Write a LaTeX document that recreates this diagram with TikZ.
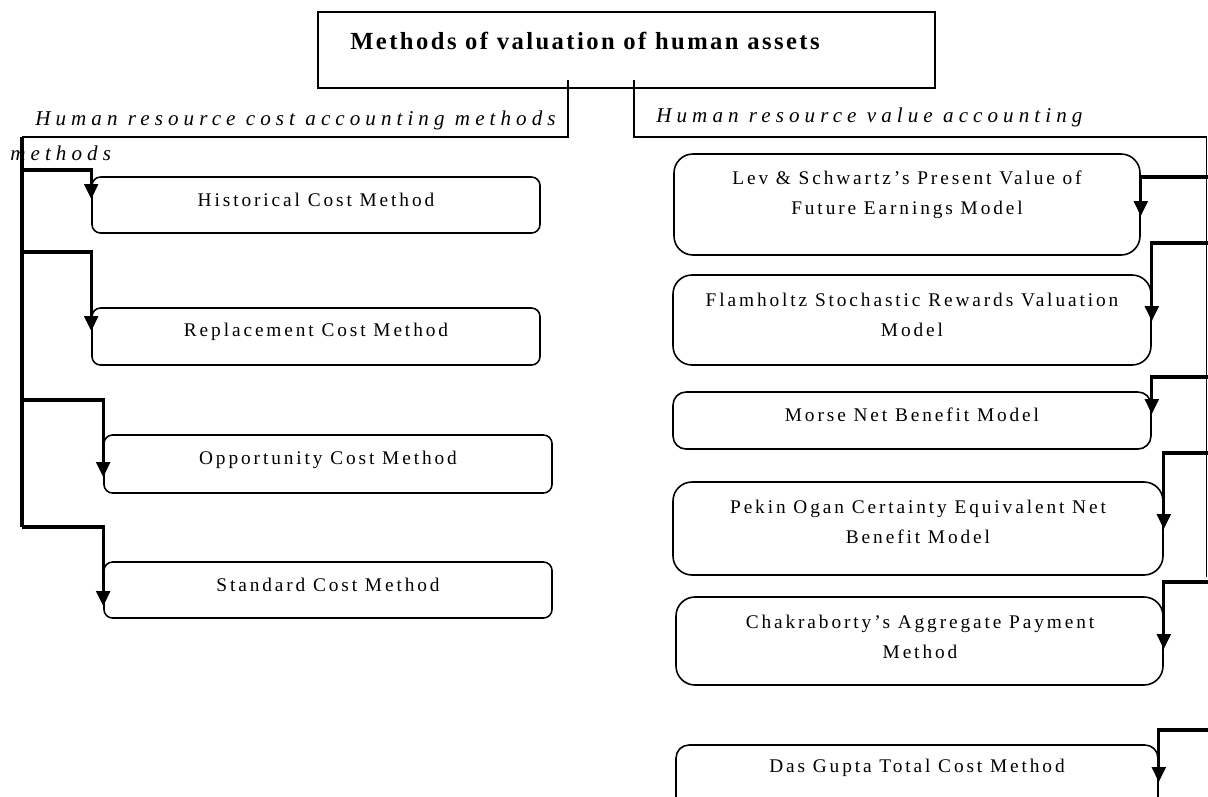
\documentclass[tikz,border=0pt]{standalone}
\usepackage{fontspec}
\setmainfont{Liberation Serif}
\newfontfamily\boxfont[LetterSpace=15]{Liberation Serif}
\newfontfamily\headfont[LetterSpace=10]{Liberation Serif}
\newfontfamily\branchfont[LetterSpace=24]{Liberation Serif}
\usetikzlibrary{arrows.meta,fit}

\begin{document}
\begin{tikzpicture}[
    x=0.02cm, y=-0.02cm,
    box/.style={draw, line width=0.9pt, rounded corners=0.17cm, inner sep=0pt},
    midbox/.style={box, rounded corners=0.26cm},
    tallbox/.style={box, rounded corners=0.38cm},
    txt/.style={font=\fontsize{11}{17}\selectfont\boxfont, align=center, inner sep=0pt},
    head/.style={font=\fontsize{14}{16}\selectfont\headfont\bfseries, inner sep=0pt},
    branch/.style={font=\fontsize{12}{14}\selectfont\branchfont\itshape, inner sep=0pt, anchor=west},
    link/.style={line width=0.7pt},
    trunk/.style={line width=1.9pt},
    feed/.style={line width=1.9pt, -{Triangle[length=0.3cm, width=0.27cm]}}
]
\clip (0,0) rectangle (1208,796);

% Top
\node[draw, line width=0.9pt, inner sep=0pt, fit={(318,12) (935,88)}] (top) {};
\node[head] (topT) at (585,41) {Methods of valuation of human assets};

% Branch labels
\node[branch] (hrc) at (35,120) {Human resource cost accounting methods};
\node[branch] (hrcb) at (10,153) {methods};
\node[branch] (hrv) at (656,117) {Human resource value accounting};

% Cost methods
\node[box, fit={(92,177) (540,233)}] (hcm) {};
\node[box, fit={(92,308) (540,365)}] (rcm) {};
\node[box, fit={(104,435) (552,493)}] (ocm) {};
\node[box, fit={(104,562) (552,618)}] (scm) {};
\node[txt] (hcmT) at (316,200) {Historical Cost Method};
\node[txt] (rcmT) at (316,332) {Replacement Cost Method};
\node[txt] (ocmT) at (328,460) {Opportunity Cost Method};
\node[txt] (scmT) at (328,585) {Standard Cost Method};

% Value models
\node[tallbox, fit={(674,154) (1140,255)}] (lev) {};
\node[tallbox, fit={(673,275) (1151,365)}] (flam) {};
\node[midbox, fit={(673,392) (1151,449)}] (morse) {};
\node[tallbox, fit={(673,482) (1163,575)}] (pekin) {};
\node[tallbox, fit={(676,597) (1163,685)}] (chak) {};
\node[midbox, fit={(676,745) (1158,830)}] (das) {};
\node[txt] (levT) at (907,195) {Lev \& Schwartz’s Present Value of\\Future Earnings Model};
\node[txt] (flamT) at (912,315) {Flamholtz Stochastic Rewards Valuation\\Model};
\node[txt] (morseT) at (912,415) {Morse Net Benefit Model};
\node[txt] (pekinT) at (918,522) {Pekin Ogan Certainty Equivalent Net\\Benefit Model};
\node[txt] (chakT) at (920,637) {Chakraborty’s Aggregate Payment\\Method};
\node[txt] (dasT) at (917,768) {Das Gupta Total Cost Method};

% Split from the top box
\coordinate (ltap) at (568,80);
\coordinate (rtap) at (634,80);
\coordinate (lsplit) at (568,137);
\coordinate (rsplit) at (634,137);
\coordinate (ltop) at (22,137);
\coordinate (lbot) at (22,527);
\coordinate (rtop) at (1206.5,137);
\coordinate (rbot) at (1206.5,577);
\draw[link] (ltap) -- (lsplit) -- (ltop);
\draw[link] (rtap) -- (rsplit) -- (rtop) -- (rbot);
\draw[trunk] (ltop) -- (lbot);

% Left feeds
\foreach \n/\y/\d in {hcm/170/23, rcm/252/24, ocm/400/43, scm/527/45}{
  \coordinate (l\n) at (22,\y);
  \draw[feed] (l\n) -| ([yshift=-\d*0.02cm]\n.north west);
}

% Right feeds
\foreach \n/\y/\d in {lev/177/63, flam/243/47, morse/377/23, pekin/453/48, chak/582/53, das/730/38}{
  \coordinate (r\n) at (1208,\y);
  \draw[feed] (r\n) -| ([yshift=-\d*0.02cm]\n.north east);
}

\end{tikzpicture}
\end{document}
